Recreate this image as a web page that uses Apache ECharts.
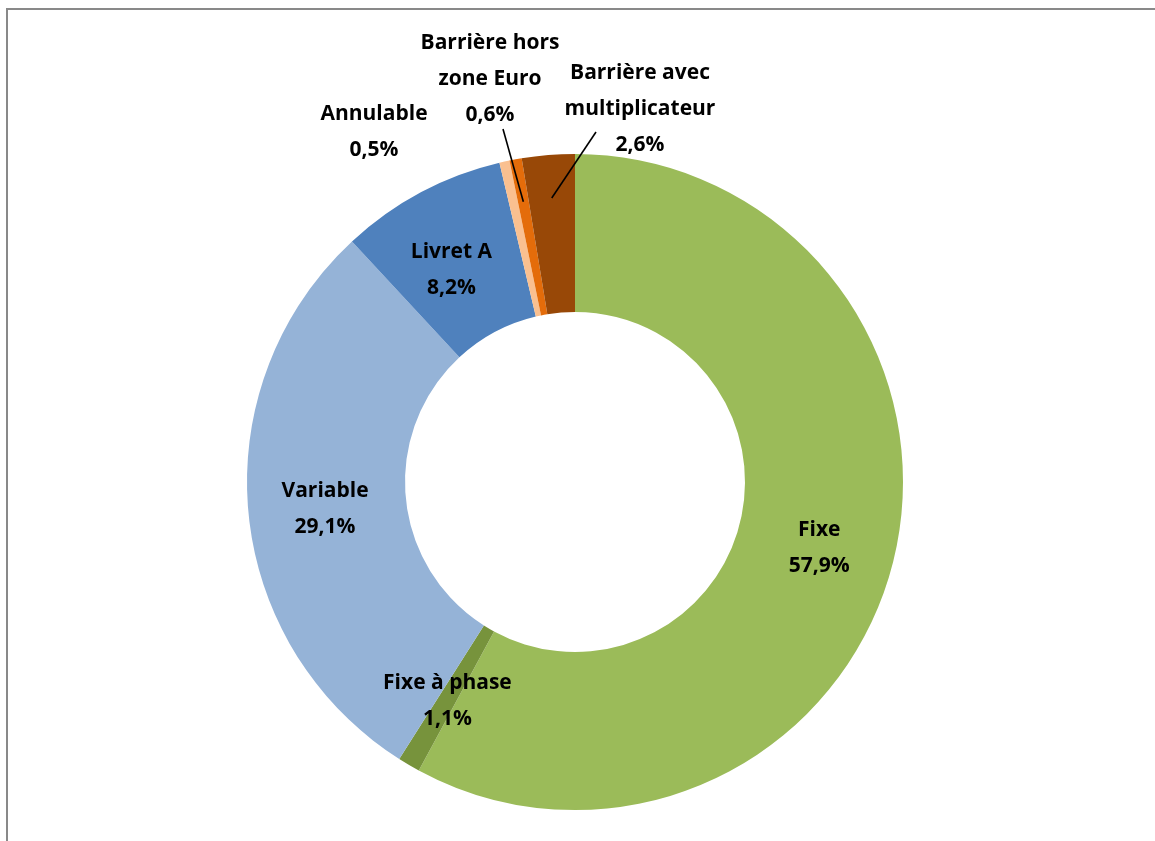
<!DOCTYPE html>
<html>
<head>
<meta charset="utf-8">
<script src="https://cdn.jsdelivr.net/npm/echarts@6/dist/echarts.min.js"></script>
<style>html,body{margin:0;padding:0;background:#fff}#c{width:1155px;height:841px}</style>
</head>
<body>
<div id="c"></div>
<script>
const categories = ['Fixe', 'Fixe à phase', 'Variable', 'Livret A', 'Annulable', 'Barrière hors\nzone Euro', 'Barrière avec\nmultiplicateur'];
const values = [57.9, 1.1, 29.1, 8.2, 0.5, 0.6, 2.6];
const colors = ['#9BBB59', '#77933C', '#95B3D7', '#4F81BD', '#FAC090', '#E46C0A', '#984807'];

// layout settings (not data)
const CENTER = [575, 482];
const R_IN = 170, R_OUT = 328, R_LINE_END = 285;
const outsideLabels = { 4: [374, 132], 5: [490, 79], 6: [640, 109] };
const lineStartOffset = { 5: [13, 50], 6: [-44, 23] };
const insideShift = { 0: [0, 4], 1: [0, 2], 2: [1, 4], 3: [-5, 10] };

const total = values.reduce((a, b) => a + b, 0);
function midPoint(i, r) {
  let s = 0;
  for (let k = 0; k < i; k++) s += values[k];
  const a = (s + values[i] / 2) / total * Math.PI * 2;
  return [CENTER[0] + r * Math.sin(a), CENTER[1] - r * Math.cos(a)];
}

const leaderLines = Object.keys(lineStartOffset).map(k => {
  const i = +k;
  const pos = outsideLabels[i], off = lineStartOffset[i];
  const end = midPoint(i, R_LINE_END);
  return {
    type: 'line', silent: true, z: 10,
    shape: { x1: pos[0] + off[0], y1: pos[1] + off[1], x2: end[0], y2: end[1] },
    style: { stroke: '#000', lineWidth: 1.6 }
  };
});

const chart = echarts.init(document.getElementById('c'));
const data = categories.map((n, i) => {
  const item = { name: n, value: values[i], itemStyle: { color: colors[i] } };
  if (outsideLabels[i]) {
    item.label = { position: 'outside' };
  }
  return item;
});
chart.setOption({
  animation: false,
  graphic: [{
    type: 'rect', shape: { x: 7, y: 9, width: 1200, height: 900 },
    style: { fill: 'none', stroke: '#898989', lineWidth: 2 }, silent: true
  }].concat(leaderLines),
  series: [{
    type: 'pie',
    center: CENTER,
    radius: [R_IN, R_OUT],
    startAngle: 90,
    clockwise: true,
    avoidLabelOverlap: false,
    itemStyle: { borderWidth: 0 },
    label: {
      show: true,
      position: 'inside',
      color: '#000',
      fontFamily: 'Open Sans',
      fontWeight: 'bold',
      fontSize: 21,
      lineHeight: 36,
      align: 'center',
      formatter: p => p.name + '\n' + p.value.toFixed(1).replace('.', ',') + '%'
    },
    labelLine: { show: false },
    labelLayout: function (params) {
      const i = params.dataIndex;
      const pos = outsideLabels[i];
      if (pos) {
        return { x: pos[0], y: pos[1], align: 'center', verticalAlign: 'middle' };
      }
      const s = insideShift[i];
      return s ? { dx: s[0], dy: s[1] } : {};
    },
    data: data
  }]
});
</script>
</body>
</html>
